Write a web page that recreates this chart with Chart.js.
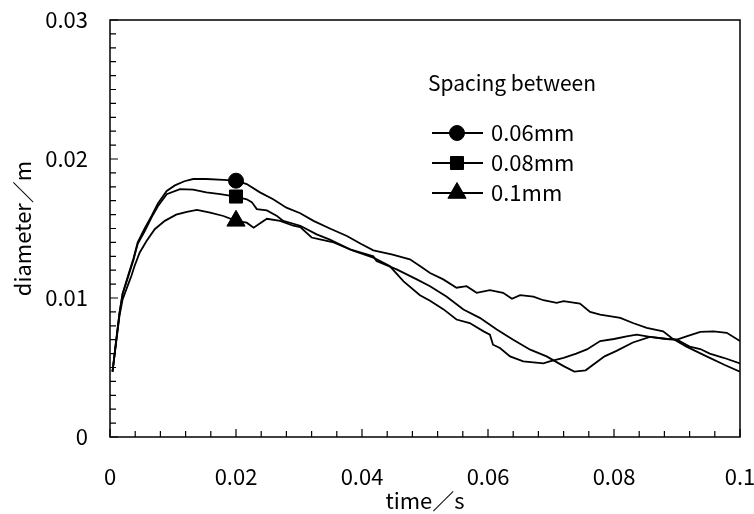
<!DOCTYPE html>
<html>
<head>
<meta charset="utf-8">
<script src="https://cdn.jsdelivr.net/npm/chart.js@4.4.1/dist/chart.umd.min.js"></script>
<style>
  html, body { margin: 0; padding: 0; background: #fff; }
  #wrap { width: 754px; height: 514px; }
</style>
</head>
<body>
<div id="wrap"><canvas id="chart" width="754" height="514"></canvas></div>
<script>
  // ---- data ----
  const seriesLabels = ["0.06mm", "0.08mm", "0.1mm"];
  const legendTitle = "Spacing between";
  const xTickLabels = ["0", "0.02", "0.04", "0.06", "0.08", "0.1"];
  const yTickLabels = ["0", "0.01", "0.02", "0.03"];
  const markerTime = 0.02; // markers only shown at this time

  const timeA = [0.0004, 0.001, 0.0015, 0.002, 0.003, 0.0037, 0.0044, 0.0055, 0.0066, 0.0076, 0.009, 0.0103, 0.0118, 0.0132, 0.0153, 0.018, 0.02, 0.0217, 0.0238, 0.0259, 0.028, 0.0302, 0.0323, 0.0349, 0.0376, 0.0398, 0.0418, 0.0447, 0.0476, 0.0492, 0.0508, 0.0529, 0.055, 0.0566, 0.0582, 0.0603, 0.0624, 0.0638, 0.0651, 0.0672, 0.0688, 0.0709, 0.072, 0.0746, 0.0762, 0.0778, 0.081, 0.083, 0.0852, 0.0878, 0.0892, 0.0915, 0.0947, 0.0975, 0.1];
  const diamA = [0.0047, 0.0070, 0.0089, 0.0103, 0.0118, 0.0128, 0.0140, 0.0150, 0.0159, 0.0168, 0.0177, 0.0181, 0.0184, 0.01856, 0.01856, 0.0185, 0.01844, 0.0182, 0.0176, 0.0171, 0.0165, 0.0161, 0.01555, 0.0150, 0.01446, 0.0139, 0.01343, 0.01314, 0.01278, 0.0123, 0.0118, 0.01134, 0.01074, 0.01085, 0.01037, 0.01056, 0.01037, 0.00994, 0.0102, 0.0101, 0.00984, 0.00965, 0.00977, 0.0096, 0.0090, 0.0088, 0.00857, 0.0082, 0.00785, 0.0076, 0.0071, 0.0065, 0.0058, 0.0052, 0.0047];

  const timeB = [0.0004, 0.001, 0.0015, 0.002, 0.003, 0.0037, 0.0044, 0.0055, 0.0066, 0.0076, 0.009, 0.0111, 0.0132, 0.0153, 0.0175, 0.02, 0.0217, 0.0225, 0.0233, 0.0249, 0.0265, 0.0275, 0.0302, 0.0328, 0.0349, 0.0381, 0.0418, 0.0423, 0.0455, 0.0487, 0.0508, 0.0534, 0.0561, 0.0587, 0.0614, 0.064, 0.0667, 0.0693, 0.072, 0.0737, 0.0755, 0.0785, 0.0804, 0.083, 0.0857, 0.0884, 0.09, 0.0915, 0.0937, 0.0958, 0.0979, 0.1];
  const diamB = [0.0047, 0.0070, 0.0089, 0.0103, 0.0117, 0.0127, 0.0139, 0.0148, 0.0158, 0.0166, 0.01747, 0.01783, 0.0178, 0.0176, 0.01747, 0.0173, 0.0171, 0.0169, 0.0164, 0.0163, 0.0159, 0.01555, 0.0152, 0.01458, 0.0142, 0.0135, 0.0130, 0.01266, 0.01206, 0.01134, 0.01085, 0.0101, 0.00917, 0.00857, 0.00773, 0.0070, 0.00628, 0.0058, 0.0051, 0.0047, 0.0048, 0.0058, 0.0062, 0.0068, 0.0072, 0.00705, 0.0070, 0.00724, 0.00756, 0.0076, 0.0075, 0.0069];

  const timeC = [0.0004, 0.001, 0.0015, 0.002, 0.0029, 0.0034, 0.0039, 0.0047, 0.0058, 0.0071, 0.0087, 0.0105, 0.0122, 0.0138, 0.0159, 0.018, 0.02, 0.0217, 0.0228, 0.0236, 0.0249, 0.027, 0.0291, 0.0302, 0.032, 0.0335, 0.0355, 0.0386, 0.0418, 0.0444, 0.0466, 0.0492, 0.0508, 0.0529, 0.055, 0.0571, 0.0593, 0.0603, 0.0608, 0.0619, 0.0635, 0.0656, 0.0672, 0.0688, 0.0698, 0.072, 0.074, 0.0757, 0.0778, 0.08, 0.082, 0.0836, 0.0857, 0.0884, 0.09, 0.092, 0.0937, 0.0952, 0.0974, 0.1];
  const diamC = [0.0047, 0.0069, 0.0087, 0.0099, 0.0110, 0.0116, 0.0123, 0.01326, 0.0141, 0.01495, 0.01555, 0.0160, 0.0162, 0.01634, 0.01615, 0.0159, 0.01555, 0.01542, 0.01506, 0.0153, 0.0157, 0.01555, 0.0152, 0.0151, 0.01435, 0.0142, 0.0140, 0.0134, 0.0129, 0.0123, 0.0112, 0.0102, 0.0098, 0.0092, 0.00845, 0.0082, 0.0076, 0.00736, 0.00664, 0.0064, 0.0058, 0.00544, 0.00537, 0.0053, 0.00544, 0.0057, 0.0060, 0.0063, 0.0069, 0.00705, 0.00724, 0.00736, 0.0072, 0.00705, 0.0070, 0.0065, 0.00633, 0.0060, 0.0057, 0.0053];

  // ---- styling ----
  const FONT = "'Noto Sans CJK JP', 'Liberation Sans', sans-serif";
  const markerStyles = ["circle", "rect", "triangle"];
  const markerRadii = [7.5, 9.2, 10.5];

  function toPoints(xs, ys) {
    return xs.map((x, i) => ({ x: x, y: ys[i] }));
  }

  const datasets = [
    [timeA, diamA],
    [timeB, diamB],
    [timeC, diamC],
  ].map(([xs, ys], i) => ({
    label: seriesLabels[i],
    data: toPoints(xs, ys),
    borderColor: "#000",
    borderWidth: 1.8,
    backgroundColor: "#000",
    pointStyle: markerStyles[i],
    markerRadius: markerRadii[i],
    pointRadius: (c) => (c.raw && c.raw.x === markerTime ? markerRadii[i] : 0),
    pointHoverRadius: 0,
    pointBackgroundColor: "#000",
    pointBorderColor: "#000",
    pointBorderWidth: 1,
    tension: 0,
    fill: false,
  }));

  // frame + inward ticks (major and minor)
  const innerTicks = {
    id: "innerTicks",
    beforeDatasetsDraw(chart) {
      const { ctx, chartArea: a, scales } = chart;
      ctx.save();
      ctx.strokeStyle = "#000";
      ctx.lineWidth = 1.5;
      ctx.strokeRect(a.left, a.top, a.right - a.left, a.bottom - a.top);
      ctx.lineWidth = 1.2;
      ctx.beginPath();
      for (let k = 0; k <= 25; k++) {
        const px = scales.x.getPixelForValue(k * 0.004);
        const len = k % 5 === 0 ? 8 : 6;
        ctx.moveTo(px, a.bottom);
        ctx.lineTo(px, a.bottom - len);
      }
      for (let k = 0; k <= 30; k++) {
        const py = scales.y.getPixelForValue(k * 0.001);
        const len = k % 10 === 0 ? 8 : 6;
        ctx.moveTo(a.left, py);
        ctx.lineTo(a.left + len, py);
      }
      ctx.stroke();
      ctx.restore();
    },
  };

  // legend drawn inside the plot: title + line/marker samples
  const legendBox = {
    id: "legendBox",
    afterDatasetsDraw(chart) {
      const { ctx, chartArea: a } = chart;
      ctx.save();
      ctx.font = "21px " + FONT;
      ctx.fillStyle = "#000";
      ctx.strokeStyle = "#000";
      ctx.textBaseline = "middle";
      ctx.textAlign = "left";
      ctx.fillText(legendTitle, a.left + 318, a.top + 63);
      ctx.font = "22px " + FONT;
      chart.data.datasets.forEach((ds, i) => {
        const y = a.top + 113 + i * 30;
        ctx.lineWidth = 2;
        ctx.beginPath();
        ctx.moveTo(a.left + 322, y);
        ctx.lineTo(a.left + 373, y);
        ctx.stroke();
        ctx.lineWidth = 1;
        Chart.helpers.drawPoint(ctx, { pointStyle: ds.pointStyle, radius: ds.markerRadius, rotation: 0, borderWidth: 1 }, a.left + 347, y);
        ctx.fillText(ds.label, a.left + 381, y);
      });
      ctx.restore();
    },
  };

  // keep the plot box fixed: no extra room reserved for edge labels
  function fixBox(s, size) {
    if (s.isHorizontal()) s.height = size; else s.width = size;
    s.paddingLeft = 0;
    s.paddingRight = 0;
    s.paddingTop = 0;
    s.paddingBottom = 0;
  }

  new Chart(document.getElementById("chart"), {
    type: "line",
    data: { datasets },
    options: {
      responsive: false,
      animation: false,
      layout: { padding: { top: 20, right: 14, left: 0, bottom: 0 } },
      plugins: { legend: { display: false }, tooltip: { enabled: false } },
      scales: {
        x: {
          type: "linear",
          min: 0,
          max: 0.1,
          grid: { display: false, drawTicks: false },
          border: { display: false },
          ticks: {
            stepSize: 0.02,
            maxRotation: 0,
            padding: 26,
            color: "#000",
            font: { family: FONT, size: 22 },
            callback: (v, i) => xTickLabels[i],
          },
          title: { display: true, text: "time／s", color: "#000", font: { family: FONT, size: 22 }, padding: 0 },
          afterFit: (s) => fixBox(s, 77),
        },
        y: {
          type: "linear",
          min: 0,
          max: 0.03,
          grid: { display: false, drawTicks: false },
          border: { display: false },
          ticks: {
            stepSize: 0.01,
            padding: 22,
            color: "#000",
            font: { family: FONT, size: 22 },
            callback: (v, i) => yTickLabels[i],
          },
          title: { display: true, text: "diameter／m", color: "#000", font: { family: FONT, size: 22 }, padding: { top: 9, bottom: 0 } },
          afterFit: (s) => fixBox(s, 110),
        },
      },
    },
    plugins: [innerTicks, legendBox],
  });
</script>
</body>
</html>
